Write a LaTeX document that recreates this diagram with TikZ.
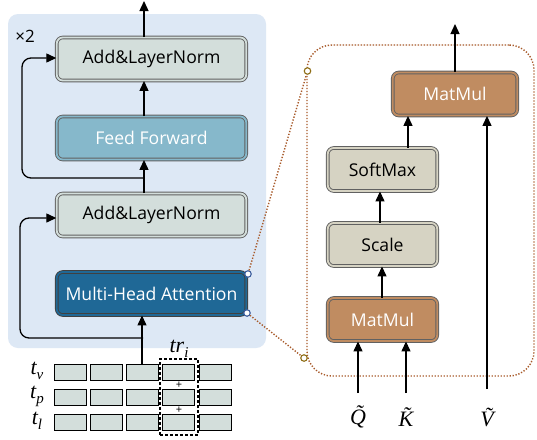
\documentclass[tikz,border=0pt]{standalone}
\usepackage{fontspec}
\setsansfont{Open Sans}
\newfontfamily\labfont{Liberation Serif}
\usetikzlibrary{arrows.meta,calc}
\definecolor{panelbg}{HTML}{DDE8F5}
\definecolor{lnfill}{HTML}{D3DEDB}
\definecolor{fffill}{HTML}{86B8CB}
\definecolor{mhafill}{HTML}{1F6896}
\definecolor{mmfill}{HTML}{C08C61}
\definecolor{smfill}{HTML}{D6D3C3}
\definecolor{tokfill}{HTML}{D3DEDB}
\definecolor{dotbrown}{HTML}{A85A2A}
\definecolor{gold}{HTML}{8E6D14}
\definecolor{bluering}{HTML}{3A5C9C}
\newcommand{\labsub}[2]{#1\raisebox{-5pt}{\fontsize{15}{15}\selectfont #2}}
\begin{document}
\begin{tikzpicture}[x=1pt,y=-1pt,
  blk/.style={rounded corners=6pt, draw=black!62, line width=0.9pt, double distance=1.8pt,
    minimum height=43pt, inner sep=0pt, font=\sffamily\fontsize{17.6}{20}\selectfont},
  wideblk/.style={blk, minimum width=189.5pt},
  narrowblk/.style={blk, minimum width=109.5pt},
  arr/.style={line width=1.3pt, -{Triangle[length=10pt,width=9pt]}},
  tok/.style={draw=black, line width=0.9pt, fill=tokfill, minimum width=32pt, minimum height=16pt, inner sep=0pt},
  dotline/.style={draw=dotbrown, line width=1.4pt, dash pattern=on 1.3pt off 1.7pt},
  ring/.style={circle, draw=#1, fill=white, line width=1.1pt, minimum size=6.5pt, inner sep=0pt},
  mlab/.style={inner sep=0pt, font=\labfont\itshape\fontsize{22}{24}\selectfont}
]
\useasboundingbox (0,0) rectangle (537,439);
\fill[white] (0,0) rectangle (537,439);

% left panel
\node[fill=panelbg, rounded corners=10pt, minimum width=258pt, minimum height=334pt, inner sep=0pt] (panel) at (137,181) {};
\node[font=\sffamily\fontsize{17}{18}\selectfont, inner sep=0pt] (times) at (25,36) {×2};

\node[wideblk, fill=lnfill, double=lnfill] (addTop) at (151.5,59) {Add\&LayerNorm};
\node[wideblk, fill=fffill, double=fffill, text=white] (ff) at (151.5,138) {Feed Forward};
\node[wideblk, fill=lnfill, double=lnfill] (addBot) at (151.5,215) {Add\&LayerNorm};
\node[wideblk, fill=mhafill, double=mhafill, text=white, draw=black!75] (mha) at (151.5,293.5) {Multi-Head Attention};

\coordinate (sp) at (144,0);
\coordinate (outL) at (144,1);
\coordinate (br1) at (144,178);
\coordinate (br2) at (143,338);

\draw[arr] (addTop.north -| sp) -- (outL);
\draw[arr] (ff.north -| sp) -- (addTop.south -| sp);
\draw[arr] (addBot.north -| sp) -- (ff.south -| sp);
\draw[arr, rounded corners=9pt] (br1) -- (22,178) -- (22,58) -- (addTop.west |- 0,58);

% tokens
\foreach \c/\x in {1/70,2/106,3/142,4/178.5,5/215}{
  \foreach \r/\y in {1/372,2/397,3/422}{
    \node[tok] (t\r\c) at (\x,\y) {};
  }
}
\draw[arr] (t13.north) -- (mha.south -| t13.north);
\draw[arr, rounded corners=9pt] (br2) -- (20,338) -- (20,218) -- (addBot.west |- 0,218);

\node[draw=black, line width=1.1pt, dash pattern=on 3pt off 2pt, minimum width=38pt, minimum height=76pt, inner sep=0pt] (tri) at (179,397) {};
\node[mlab] (trlab) at (179,349) {\labsub{tr}{i}};
\node[font=\sffamily\fontsize{11}{11}\selectfont, inner sep=0pt] (p1) at (179,385) {+};
\node[font=\sffamily\fontsize{11}{11}\selectfont, inner sep=0pt] (p2) at (179,410) {+};
\node[mlab] (tv) at (37,371) {\labsub{t}{v}};
\node[mlab] (tp) at (37,396) {\labsub{t}{p}};
\node[mlab] (tl) at (37,421) {\labsub{t}{l}};

% right panel
\node[draw=dotbrown, line width=1.4pt, dash pattern=on 1.3pt off 1.7pt, rounded corners=25pt,
  minimum width=227pt, minimum height=331pt, inner sep=0pt] (zoomp) at (420.5,210.5) {};

\node[blk, minimum width=124.5pt, fill=mmfill, double=mmfill, text=white] (matTop) at (455,94) {MatMul};
\node[narrowblk, fill=smfill, double=smfill] (soft) at (382.5,169.5) {SoftMax};
\node[narrowblk, fill=smfill, double=smfill] (scale) at (382.5,244.5) {Scale};
\node[narrowblk, fill=mmfill, double=mmfill, text=white] (matBot) at (382.5,319.5) {MatMul};

\coordinate (outR) at (455,24);
\draw[arr] (matTop.north) -- (outR);
\draw[arr] (soft.north -| 408,0) -- (matTop.south -| 408,0);
\draw[arr] (scale.north -| 380,0) -- (soft.south -| 380,0);
\draw[arr] (matBot.north -| 382,0) -- (scale.south -| 382,0);

\coordinate (qIn) at (358,393);
\coordinate (kIn) at (406,393);
\coordinate (vIn) at (487,389);
\draw[arr] (qIn) -- (qIn |- matBot.south);
\draw[arr] (kIn) -- (kIn |- matBot.south);
\draw[arr] (vIn) -- (vIn |- matTop.south);
\node[mlab] (qlab) at (358,417) {\~{Q}};
\node[mlab] (klab) at (406,417) {\~{K}};
\node[mlab] (vlab) at (487,417) {\~{V}};

% zoom connectors
\node[ring=bluering] (c1) at (248,274) {};
\node[ring=bluering] (c2) at (247,313) {};
\node[ring=gold] (g1) at (307.5,71) {};
\node[ring=gold] (g2) at (304,358) {};
\draw[dotline] (c1) -- (g1);
\draw[dotline] (c2) -- (g2);
\end{tikzpicture}
\end{document}
